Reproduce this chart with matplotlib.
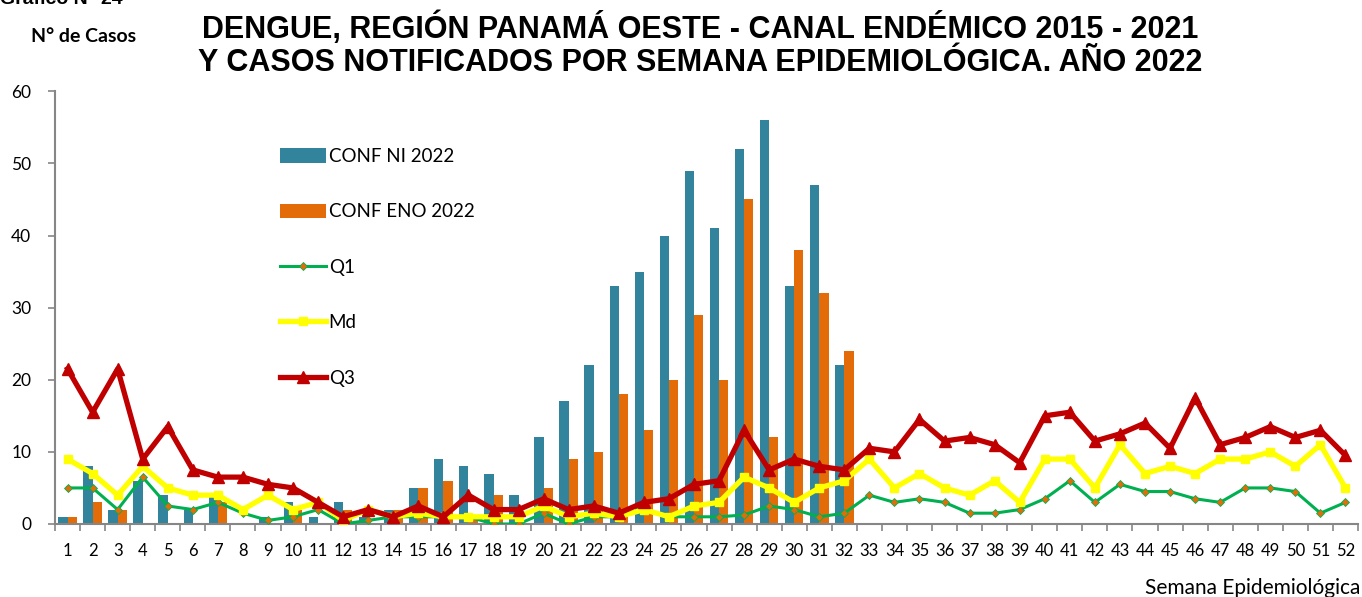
import numpy as np
import matplotlib
matplotlib.use("Agg")
import matplotlib.pyplot as plt

# Data
weeks = list(range(1, 53))
conf_ni = [1, 8, 2, 6, 4, 2, 4, 0, 1, 3, 1, 3, 1, 2, 5, 9, 8, 7, 4, 12,
           17, 22, 33, 35, 40, 49, 41, 52, 56, 33, 47, 22]
conf_eno = [1, 3, 2, 0, 0, 0, 3, 0, 0, 2, 0, 2, 0, 2, 5, 6, 1, 4, 0, 5,
            9, 10, 18, 13, 20, 29, 20, 45, 12, 38, 32, 24]
q1 = [5, 5, 2, 6.5, 2.5, 2, 3, 1.5, 0.5, 1, 2, 0, 0.5, 1, 1, 1, 1, 0, 0, 1.5,
      0, 1, 1, 2, 1, 1, 1, 1.25, 2.5, 2, 1, 1.5, 4, 3, 3.5, 3, 1.5, 1.5, 2, 3.5,
      6, 3, 5.5, 4.5, 4.5, 3.5, 3, 5, 5, 4.5, 1.5, 3]
md = [9, 7, 4, 8, 5, 4, 4, 2, 4, 2, 3, 0.5, 2, 1, 1.5, 1, 1, 1, 1, 2.5,
      1, 1.5, 1, 2, 1, 2.5, 3, 6.5, 5, 3, 5, 6, 9, 5, 7, 5, 4, 6, 3, 9,
      9, 5, 11, 7, 8, 7, 9, 9, 10, 8, 11, 5]
q3 = [21.5, 15.5, 21.5, 9, 13.5, 7.5, 6.5, 6.5, 5.5, 5, 3, 1, 2, 1, 2.5, 1, 4, 2, 2, 3.5,
      2, 2.5, 1.5, 3, 3.5, 5.5, 6, 13, 7.5, 9, 8, 7.5, 10.5, 10, 14.5, 11.5, 12, 11, 8.5, 15,
      15.5, 11.5, 12.5, 14, 10.5, 17.5, 11, 12, 13.5, 12, 13, 9.5]

gray = "#868686"
font = "Lato"

fig = plt.figure(figsize=(13.62, 5.97), dpi=100)
ax = fig.add_axes([55 / 1362, 1 - 524 / 597, 1303 / 1362, 432.7 / 597])

# Bars for 2022 cases (weeks 1-32)
bar_weeks = np.arange(1, len(conf_ni) + 1)
w = 0.37
b1 = ax.bar(bar_weeks - w / 2, conf_ni, width=w, color="#31849B", label="CONF NI 2022", zorder=2)
b2 = ax.bar(bar_weeks + w / 2, conf_eno, width=w, color="#E36C09", label="CONF ENO 2022", zorder=2)

# Endemic channel lines
l1, = ax.plot(weeks, q1, color="#00B050", linewidth=2.2, marker="D", markersize=4,
              markerfacecolor="#E36C09", markeredgecolor="#00B050", markeredgewidth=0.6,
              label="Q1", zorder=3)
l2, = ax.plot(weeks, md, color="#FFFF00", linewidth=3.8, marker="s", markersize=6,
              markerfacecolor="#FFFF00", markeredgecolor="#FFFF00", label="Md", zorder=4)
l3, = ax.plot(weeks, q3, color="#C00000", linewidth=3.8, marker="^", markersize=8,
              markerfacecolor="#C00000", markeredgecolor="#C00000", label="Q3", zorder=5)

ax.set_xlim(0.5, 52.5)
ax.set_ylim(0, 60)
ax.set_yticks(range(0, 61, 10))
ax.set_xticks(np.arange(0.5, 53, 1))
ax.set_xticklabels([])
ax.set_xticks(weeks, minor=True)
ax.set_xticklabels([str(x) for x in weeks], minor=True, fontfamily=font, fontsize=12)
ax.tick_params(axis="x", which="major", direction="out", length=5, color=gray, width=1.2)
ax.tick_params(axis="x", which="minor", length=0, pad=14)
ax.tick_params(axis="y", direction="out", length=5, color=gray, width=1.2, pad=12)
for lbl in ax.get_yticklabels():
    lbl.set_fontfamily(font)
    lbl.set_fontsize(12.5)

for side in ["top", "right"]:
    ax.spines[side].set_visible(False)
for side in ["left", "bottom"]:
    ax.spines[side].set_color(gray)
    ax.spines[side].set_linewidth(1.5)

fig.legend([b1, b2, l1, l2, l3], ["CONF NI 2022", "CONF ENO 2022", "Q1", "Md", "Q3"],
           loc="upper left", bbox_to_anchor=(280 / 1362, 1 - 148 / 597),
           frameon=False, prop={"family": font, "size": 13.5},
           handlelength=2.45, handleheight=0.8, handletextpad=0.15,
           labelspacing=2.05, borderpad=0, borderaxespad=0)

# Titles and labels
fig.text(700 / 1362, 1 - 28 / 597,
         "DENGUE, REGIÓN PANAMÁ OESTE - CANAL ENDÉMICO 2015 - 2021",
         ha="center", va="center", fontsize=22, fontweight="bold", fontfamily="Liberation Sans")
fig.text(700 / 1362, 1 - 63 / 597,
         "Y CASOS NOTIFICADOS POR SEMANA EPIDEMIOLÓGICA. AÑO 2022",
         ha="center", va="center", fontsize=22, fontweight="bold", fontfamily="Liberation Sans")
fig.text(0.0, 1 - 4 / 597, "Gráfico N° 24", ha="left", va="baseline",
         fontsize=14, fontweight="bold", fontfamily="Liberation Sans")
fig.text(84 / 1362, 1 - 37 / 597, "N° de Casos", ha="center", va="center",
         fontsize=14, fontweight="bold", fontfamily=font)
fig.text(1360 / 1362, 1 - 588 / 597, "Semana Epidemiológica", ha="right", va="center",
         fontsize=15, fontfamily=font)

fig.savefig("out.png", dpi=100)
